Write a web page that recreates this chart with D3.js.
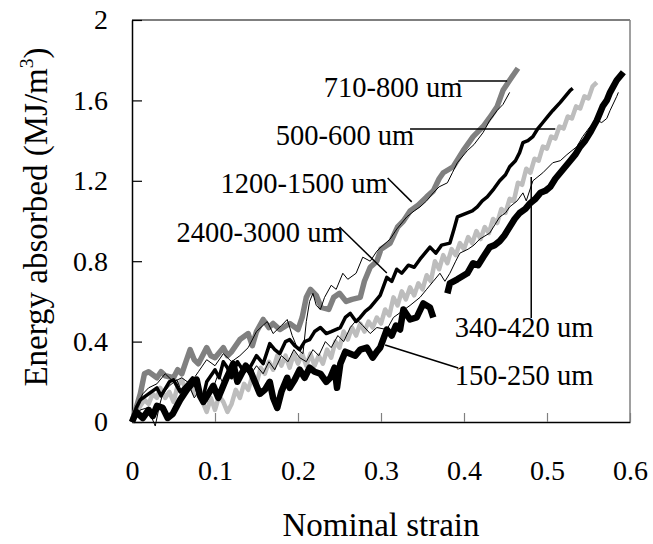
<!DOCTYPE html>
<html><head><meta charset="utf-8">
<script src="https://cdn.jsdelivr.net/npm/d3@7"></script>
<style>
html,body{margin:0;padding:0;background:#fff;}
svg{display:block;font-family:"Liberation Serif","Times New Roman",serif;}
</style></head>
<body>
<svg id="chart" width="653" height="544"></svg>
<script>
// ---- data (strain, energy MJ/m^3) ----
const xTickValues = [0, 0.1, 0.2, 0.3, 0.4, 0.5, 0.6];
const xTickLabels = ["0", "0.1", "0.2", "0.3", "0.4", "0.5", "0.6"];
const yTickValues = [0, 0.4, 0.8, 1.2, 1.6, 2];
const yTickLabels = ["0", "0.4", "0.8", "1.2", "1.6", "2"];
const seriesNames = ["710-800 um", "1200-1500 um", "2400-3000 um", "500-600 um", "340-420 um", "150-250 um"];

const s710_800 = [[0,0],[0.005,0.07],[0.01,0.14],[0.015,0.24],[0.02,0.25],[0.03,0.22],[0.035,0.25],[0.04,0.23],[0.05,0.22],[0.055,0.26],[0.06,0.24],[0.065,0.30],[0.07,0.36],[0.075,0.31],[0.08,0.29],[0.09,0.37],[0.095,0.33],[0.10,0.32],[0.11,0.37],[0.115,0.33],[0.12,0.35],[0.13,0.41],[0.14,0.44],[0.145,0.38],[0.15,0.45],[0.158,0.51],[0.165,0.47],[0.17,0.49],[0.178,0.46],[0.19,0.49],[0.20,0.46],[0.205,0.52],[0.21,0.62],[0.215,0.66],[0.222,0.63],[0.228,0.57],[0.237,0.56],[0.243,0.62],[0.25,0.64],[0.258,0.60],[0.265,0.61],[0.275,0.62],[0.28,0.70],[0.287,0.77],[0.295,0.80],[0.30,0.86],[0.311,0.89],[0.32,0.97],[0.327,1.0],[0.335,1.05],[0.345,1.08],[0.355,1.12],[0.363,1.15],[0.37,1.21],[0.375,1.24],[0.387,1.27],[0.393,1.31],[0.399,1.35],[0.411,1.42],[0.423,1.47],[0.432,1.52],[0.44,1.57],[0.447,1.65],[0.455,1.70],[0.465,1.76]];

const s1200_1500 = [[0,0],[0.005,0.08],[0.013,0.14],[0.02,0.17],[0.03,0.19],[0.04,0.24],[0.05,0.20],[0.06,0.22],[0.07,0.19],[0.08,0.25],[0.09,0.31],[0.10,0.28],[0.11,0.34],[0.12,0.30],[0.13,0.33],[0.14,0.37],[0.15,0.45],[0.163,0.50],[0.17,0.44],[0.18,0.48],[0.187,0.51],[0.193,0.43],[0.20,0.36],[0.206,0.34],[0.21,0.50],[0.214,0.60],[0.218,0.64],[0.222,0.58],[0.227,0.56],[0.232,0.62],[0.24,0.68],[0.246,0.66],[0.254,0.74],[0.26,0.71],[0.27,0.74],[0.278,0.82],[0.287,0.80],[0.295,0.85],[0.30,0.87],[0.311,0.91],[0.319,0.96],[0.331,1.02],[0.34,1.05],[0.347,1.07],[0.355,1.10],[0.363,1.14],[0.37,1.17],[0.38,1.19],[0.386,1.24],[0.392,1.29],[0.404,1.35],[0.412,1.38],[0.423,1.44],[0.431,1.50],[0.44,1.55],[0.447,1.58],[0.455,1.64]];

const s2400_3000 = [[0,0],[0.005,0.07],[0.01,0.11],[0.02,0.14],[0.03,0.17],[0.035,0.13],[0.045,0.20],[0.05,0.21],[0.058,0.15],[0.065,0.18],[0.073,0.22],[0.08,0.14],[0.085,0.11],[0.09,0.20],[0.10,0.26],[0.105,0.22],[0.11,0.30],[0.115,0.27],[0.12,0.22],[0.127,0.30],[0.135,0.25],[0.142,0.27],[0.15,0.33],[0.158,0.29],[0.166,0.39],[0.172,0.36],[0.178,0.34],[0.185,0.40],[0.19,0.41],[0.196,0.38],[0.202,0.36],[0.208,0.40],[0.214,0.41],[0.22,0.45],[0.227,0.47],[0.234,0.44],[0.24,0.45],[0.251,0.47],[0.257,0.52],[0.263,0.54],[0.27,0.50],[0.275,0.52],[0.281,0.55],[0.287,0.57],[0.293,0.60],[0.299,0.63],[0.307,0.72],[0.313,0.70],[0.319,0.76],[0.325,0.74],[0.333,0.78],[0.34,0.77],[0.347,0.81],[0.353,0.84],[0.359,0.87],[0.366,0.84],[0.373,0.88],[0.383,0.89],[0.388,0.96],[0.392,1.02],[0.404,1.04],[0.41,1.05],[0.416,1.07],[0.422,1.10],[0.428,1.12],[0.436,1.16],[0.443,1.20],[0.45,1.23],[0.455,1.27],[0.462,1.30],[0.467,1.34],[0.471,1.39],[0.477,1.40],[0.483,1.42],[0.489,1.46],[0.495,1.49],[0.501,1.52],[0.507,1.55],[0.516,1.59],[0.522,1.62],[0.528,1.65],[0.531,1.66]];

const s500_600 = [[0,0],[0.005,0.04],[0.01,0.08],[0.015,0.11],[0.02,0.09],[0.025,0.14],[0.03,0.12],[0.034,0.17],[0.04,0.12],[0.045,0.15],[0.05,0.10],[0.055,0.18],[0.06,0.21],[0.065,0.16],[0.07,0.19],[0.075,0.14],[0.08,0.17],[0.085,0.10],[0.09,0.05],[0.095,0.12],[0.10,0.06],[0.105,0.13],[0.11,0.10],[0.115,0.05],[0.12,0.09],[0.125,0.16],[0.13,0.12],[0.135,0.19],[0.14,0.16],[0.145,0.23],[0.15,0.19],[0.155,0.27],[0.16,0.24],[0.165,0.30],[0.17,0.26],[0.175,0.33],[0.18,0.28],[0.185,0.33],[0.19,0.27],[0.195,0.34],[0.20,0.29],[0.205,0.34],[0.21,0.28],[0.215,0.34],[0.22,0.28],[0.225,0.33],[0.23,0.29],[0.235,0.36],[0.24,0.32],[0.245,0.40],[0.25,0.37],[0.255,0.45],[0.26,0.41],[0.265,0.47],[0.27,0.43],[0.275,0.49],[0.28,0.45],[0.285,0.50],[0.29,0.47],[0.295,0.52],[0.30,0.49],[0.305,0.56],[0.31,0.53],[0.315,0.62],[0.32,0.58],[0.325,0.65],[0.33,0.61],[0.335,0.67],[0.34,0.63],[0.345,0.69],[0.35,0.66],[0.355,0.73],[0.36,0.70],[0.365,0.80],[0.37,0.76],[0.375,0.83],[0.38,0.79],[0.385,0.86],[0.39,0.83],[0.395,0.89],[0.40,0.86],[0.405,0.92],[0.41,0.89],[0.415,0.95],[0.42,0.91],[0.425,0.97],[0.43,0.94],[0.435,1.01],[0.44,0.99],[0.445,1.06],[0.45,1.04],[0.455,1.11],[0.46,1.10],[0.465,1.19],[0.47,1.18],[0.475,1.26],[0.48,1.24],[0.485,1.31],[0.49,1.30],[0.495,1.37],[0.50,1.36],[0.505,1.42],[0.51,1.41],[0.515,1.47],[0.52,1.46],[0.525,1.52],[0.53,1.51],[0.535,1.57],[0.54,1.56],[0.545,1.62],[0.55,1.61],[0.555,1.67],[0.56,1.69]];

const s340_420 = [[0,0],[0.01,0.06],[0.018,0.07],[0.023,0.03],[0.028,-0.02],[0.033,0.08],[0.037,0.14],[0.045,0.18],[0.054,0.21],[0.06,0.15],[0.068,0.19],[0.075,0.12],[0.082,0.16],[0.09,0.10],[0.097,0.16],[0.104,0.24],[0.11,0.19],[0.12,0.26],[0.128,0.22],[0.135,0.27],[0.142,0.23],[0.15,0.28],[0.158,0.24],[0.165,0.30],[0.172,0.26],[0.18,0.33],[0.188,0.30],[0.195,0.36],[0.202,0.32],[0.21,0.30],[0.218,0.36],[0.225,0.33],[0.233,0.40],[0.24,0.37],[0.248,0.43],[0.255,0.40],[0.263,0.47],[0.271,0.51],[0.278,0.48],[0.287,0.44],[0.295,0.47],[0.307,0.46],[0.315,0.52],[0.325,0.55],[0.335,0.58],[0.347,0.62],[0.355,0.66],[0.363,0.70],[0.371,0.74],[0.377,0.70],[0.383,0.74],[0.39,0.80],[0.395,0.84],[0.405,0.86],[0.412,0.88],[0.419,0.91],[0.431,0.94],[0.443,1.02],[0.45,1.04],[0.455,1.07],[0.464,1.10],[0.471,1.14],[0.475,1.10],[0.483,1.20],[0.495,1.24],[0.507,1.29],[0.516,1.30],[0.524,1.33],[0.536,1.37],[0.543,1.42],[0.552,1.47],[0.56,1.50],[0.566,1.49],[0.572,1.51],[0.576,1.55],[0.584,1.62],[0.586,1.64]];

// null energy marks the gap in the record
const s150_250 = [[0,0],[0.005,0.05],[0.013,0.02],[0.02,0.06],[0.025,0.03],[0.03,0.08],[0.037,0.07],[0.043,0.02],[0.049,0.04],[0.058,0.11],[0.066,0.16],[0.072,0.19],[0.078,0.21],[0.082,0.13],[0.086,0.10],[0.092,0.14],[0.098,0.18],[0.104,0.12],[0.108,0.16],[0.114,0.22],[0.122,0.29],[0.127,0.20],[0.132,0.24],[0.137,0.28],[0.142,0.26],[0.148,0.20],[0.154,0.14],[0.16,0.16],[0.166,0.20],[0.17,0.12],[0.175,0.07],[0.18,0.15],[0.187,0.22],[0.19,0.17],[0.196,0.21],[0.202,0.26],[0.208,0.22],[0.214,0.27],[0.22,0.25],[0.227,0.24],[0.234,0.20],[0.239,0.22],[0.244,0.27],[0.247,0.17],[0.251,0.29],[0.257,0.35],[0.263,0.34],[0.269,0.33],[0.275,0.36],[0.283,0.37],[0.29,0.32],[0.295,0.35],[0.299,0.37],[0.307,0.46],[0.313,0.43],[0.318,0.48],[0.323,0.46],[0.327,0.56],[0.335,0.51],[0.343,0.52],[0.351,0.59],[0.359,0.57],[0.363,0.52],[0.37,null],[0.38,0.64],[0.383,0.69],[0.392,0.71],[0.404,0.74],[0.411,0.79],[0.417,0.78],[0.423,0.82],[0.431,0.87],[0.437,0.88],[0.443,0.90],[0.449,0.93],[0.455,0.97],[0.461,1.01],[0.467,1.04],[0.474,1.06],[0.48,1.09],[0.486,1.11],[0.492,1.14],[0.498,1.15],[0.504,1.17],[0.51,1.21],[0.516,1.24],[0.522,1.27],[0.528,1.30],[0.534,1.33],[0.54,1.37],[0.546,1.40],[0.552,1.44],[0.556,1.47],[0.56,1.50],[0.567,1.57],[0.572,1.60],[0.576,1.64],[0.584,1.70],[0.592,1.74]];

// ---- layout / styles ----
const W = 653, H = 544;
const margin = {left:132, right:23, top:20, bottom:122};
const svg = d3.select("#chart");
const x = d3.scaleLinear().domain([0, 0.6]).range([margin.left, W - margin.right]);
const y = d3.scaleLinear().domain([0, 2]).range([H - margin.bottom, margin.top]);

const styles = {
  "500-600 um":   {color:"#bdbdbd", width:4.5},
  "710-800 um":   {color:"#808080", width:5.5},
  "150-250 um":   {color:"#000", width:6.5},
  "2400-3000 um": {color:"#000", width:3.5},
  "1200-1500 um": {color:"#000", width:1},
  "340-420 um":   {color:"#000", width:1}
};
const seriesData = {
  "710-800 um": s710_800, "1200-1500 um": s1200_1500, "2400-3000 um": s2400_3000,
  "500-600 um": s500_600, "340-420 um": s340_420, "150-250 um": s150_250
};
const drawOrder = ["500-600 um","710-800 um","150-250 um","2400-3000 um","1200-1500 um","340-420 um"];

const TICK_FONT = 28, ANN_FONT = 28.5, TITLE_FONT = 33;

// frame: top and right
svg.append("line").attr("x1", x(0)).attr("x2", x(0.6)).attr("y1", y(2)).attr("y2", y(2))
  .attr("stroke", "#000").attr("stroke-width", 1.2);
svg.append("line").attr("x1", x(0.6)).attr("x2", x(0.6)).attr("y1", y(2)).attr("y2", y(0))
  .attr("stroke", "#808080").attr("stroke-width", 1.5);

// axes
const xAxis = d3.axisBottom(x).tickValues(xTickValues)
  .tickFormat((d,i) => xTickLabels[i]).tickSizeInner(-9).tickSizeOuter(0).tickPadding(38);
const gx = svg.append("g").attr("transform", `translate(0,${y(0)})`).call(xAxis);
gx.select(".domain").attr("stroke", "#000").attr("stroke-width", 1.5);
gx.selectAll(".tick line").attr("stroke", "#808080").attr("stroke-width", 1.2);
gx.selectAll("text").attr("font-size", TICK_FONT).attr("font-family", "Liberation Serif").attr("fill", "#000");

const yAxis = d3.axisLeft(y).tickValues(yTickValues)
  .tickFormat((d,i) => yTickLabels[i]).tickSizeInner(-10).tickSizeOuter(0).tickPadding(24);
const gy = svg.append("g").attr("transform", `translate(${x(0)},0)`).call(yAxis);
gy.select(".domain").attr("stroke", "#000").attr("stroke-width", 1.5);
gy.selectAll(".tick line").attr("stroke", "#000").attr("stroke-width", 1.2);
gy.selectAll("text").attr("font-size", TICK_FONT).attr("font-family", "Liberation Serif").attr("fill", "#000");

// lines
const line = d3.line().defined(d => d[1] !== null).x(d => x(d[0])).y(d => y(d[1]));
drawOrder.forEach(name => {
  svg.append("path").datum(seriesData[name])
    .attr("fill", "none").attr("stroke", styles[name].color)
    .attr("stroke-width", styles[name].width)
    .attr("stroke-linejoin", "round").attr("stroke-linecap", "butt")
    .attr("d", line);
});

// annotations (positions in data units)
const annotations = [
  {text:"710-800 um",   tx:0.398, ty:1.615, anchor:"end",   lx1:0.393, ly1:1.697, lx2:0.452, ly2:1.697},
  {text:"500-600 um",   tx:0.340, ty:1.377, anchor:"end",   lx1:0.335, ly1:1.458, lx2:0.510, ly2:1.458},
  {text:"1200-1500 um", tx:0.308, ty:1.139, anchor:"end",   lx1:0.308, ly1:1.214, lx2:0.337, ly2:1.095},
  {text:"2400-3000 um", tx:0.255, ty:0.896, anchor:"end",   lx1:0.250, ly1:0.970, lx2:0.307, ly2:0.741},
  {text:"340-420 um",   tx:0.389, ty:0.423, anchor:"start", lx1:0.481, ly1:1.219, lx2:0.481, ly2:0.517},
  {text:"150-250 um",   tx:0.389, ty:0.184, anchor:"start", lx1:0.305, ly1:0.383, lx2:0.393, ly2:0.269}
];
annotations.forEach(a => {
  svg.append("line").attr("x1", x(a.lx1)).attr("y1", y(a.ly1)).attr("x2", x(a.lx2)).attr("y2", y(a.ly2))
    .attr("stroke", "#000").attr("stroke-width", 1.5);
  svg.append("text").attr("x", x(a.tx)).attr("y", y(a.ty)).attr("text-anchor", a.anchor)
    .attr("font-size", ANN_FONT).attr("fill", "#000").text(a.text);
});

// axis titles
svg.append("text").attr("x", (x(0) + x(0.6)) / 2).attr("y", 536).attr("text-anchor", "middle")
  .attr("font-size", TITLE_FONT).text("Nominal strain");
const yt = svg.append("text").attr("transform", `translate(47,${(y(0) + y(2)) / 2 - 4}) rotate(-90)`)
  .attr("text-anchor", "middle").attr("font-size", TITLE_FONT);
yt.append("tspan").text("Energy absorbed (MJ/m");
yt.append("tspan").attr("font-size", TITLE_FONT * 0.6).attr("dy", -TITLE_FONT * 0.42).text("3");
yt.append("tspan").attr("dy", TITLE_FONT * 0.42).text(")");
</script>
</body></html>
